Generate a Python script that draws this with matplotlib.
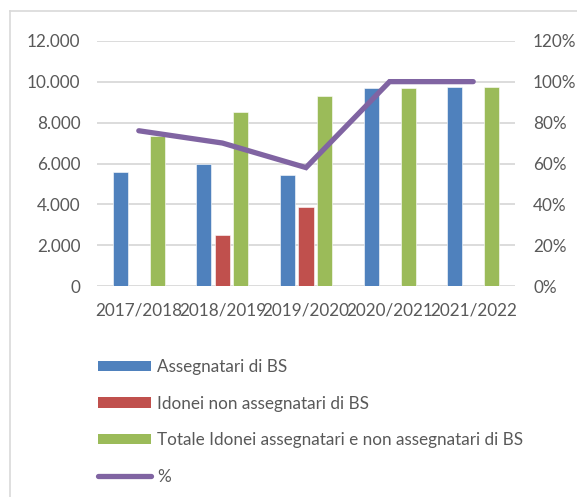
import matplotlib
matplotlib.use("Agg")
import matplotlib.pyplot as plt
import numpy as np
from matplotlib.lines import Line2D
from matplotlib.patches import Patch

categories = ["2017/2018", "2018/2019", "2019/2020", "2020/2021", "2021/2022"]
assegnatari = [5575, 5980, 5430, 9710, 9745]
idonei_non_ass = [0, 2490, 3880, 0, 0]
totale_idonei = [7350, 8520, 9310, 9710, 9745]
percentuale = [0.76, 0.70, 0.58, 1.00, 1.00]

series_labels = ["Assegnatari di BS", "Idonei non assegnatari di BS",
                 "Totale Idonei assegnatari e non assegnatari di BS", "%"]
left_ticks = [0, 2000, 4000, 6000, 8000, 10000, 12000]
left_ticklabels = ["0", "2.000", "4.000", "6.000", "8.000", "10.000", "12.000"]
right_ticks = [0, 0.2, 0.4, 0.6, 0.8, 1.0, 1.2]
right_ticklabels = ["0%", "20%", "40%", "60%", "80%", "100%", "120%"]

BLUE = "#4F81BD"
RED = "#C0504D"
GREEN = "#9BBB59"
PURPLE = "#8064A2"
GRID = "#D9D9D9"
TXT = "#595959"

plt.rcParams["font.family"] = ["Lato", "DejaVu Sans"]
FS = 12.3

W, H = 577, 497
fig = plt.figure(figsize=(W / 100, H / 100), dpi=100)
ax = fig.add_axes([97 / W, 1 - 286.3 / H, (515 - 97) / W, (286.3 - 40.7) / H])

x = np.arange(len(categories))
bw = 0.18
off = 0.222
ax.bar(x - off, assegnatari, bw, color=BLUE, edgecolor="white", linewidth=0.4, zorder=2)
ax.bar(x, idonei_non_ass, bw, color=RED, edgecolor="white", linewidth=0.4, zorder=2)
ax.bar(x + off, totale_idonei, bw, color=GREEN, edgecolor="white", linewidth=0.4, zorder=2)

ax.set_xlim(-0.5, len(categories) - 0.5)
ax.set_ylim(0, 12000)
ax.set_yticks(left_ticks)
ax.set_yticklabels(left_ticklabels)
ax.set_xticks(x)
ax.set_xticklabels(categories)
ax.grid(axis="y", color=GRID, linewidth=1.3, zorder=0)
ax.set_axisbelow(True)
for s in ax.spines.values():
    s.set_visible(False)
ax.tick_params(axis="both", length=0, labelsize=FS, labelcolor=TXT)
ax.tick_params(axis="y", pad=12)
ax.tick_params(axis="x", pad=12)

ax2 = ax.twinx()
ax2.plot(x, percentuale, color=PURPLE, linewidth=3.8, solid_capstyle="round",
         solid_joinstyle="miter", zorder=3)
ax2.set_ylim(0, 1.2)
ax2.set_yticks(right_ticks)
ax2.set_yticklabels(right_ticklabels)
for s in ax2.spines.values():
    s.set_visible(False)
ax2.tick_params(axis="y", length=0, labelsize=FS, labelcolor=TXT, pad=13)

handles = [Patch(facecolor=BLUE), Patch(facecolor=RED), Patch(facecolor=GREEN),
           Line2D([0], [0], color=PURPLE, linewidth=3.8, solid_capstyle="round")]
leg = fig.legend(handles, series_labels, loc="upper left",
                 bbox_to_anchor=(98 / W, 1 - 359 / H), frameon=False,
                 fontsize=FS, labelcolor=TXT, handlelength=3.1, handleheight=0.6,
                 handletextpad=0.35, labelspacing=1.2, borderpad=0, borderaxespad=0)

fig.add_artist(Line2D([9.5 / W, 9.5 / W], [1 - 11 / H, 0], transform=fig.transFigure,
                      color=GRID, linewidth=1.2))
fig.add_artist(Line2D([9.5 / W, 1], [1 - 11 / H, 1 - 11 / H], transform=fig.transFigure,
                      color=GRID, linewidth=1.2))

fig.savefig("out.png", dpi=100)
